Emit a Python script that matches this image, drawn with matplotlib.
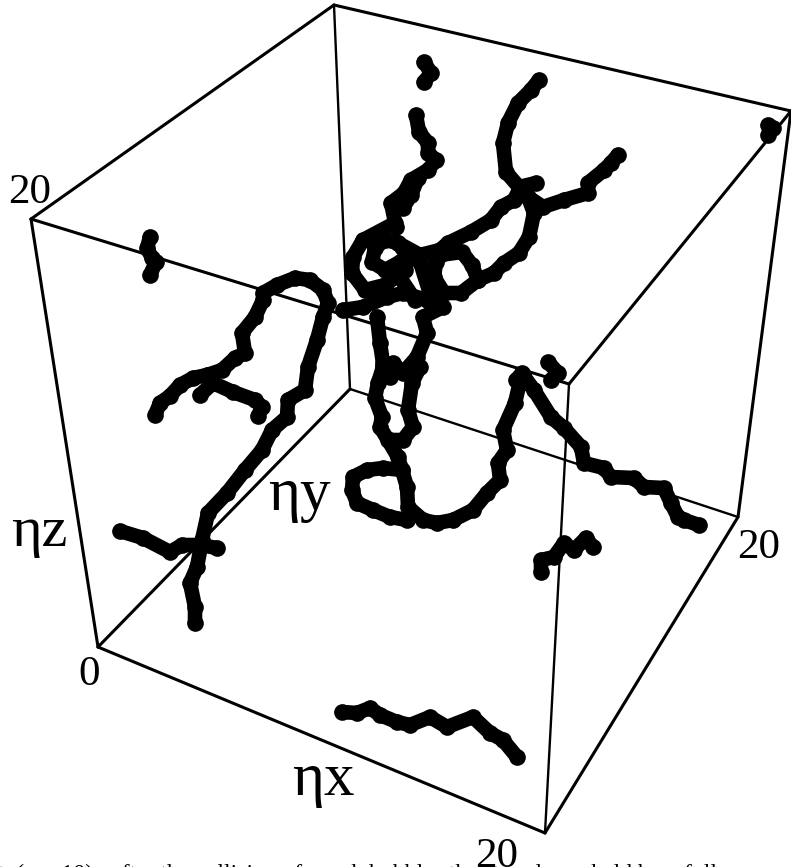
import matplotlib
matplotlib.use("Agg")
import matplotlib.pyplot as plt

plt.rcParams['font.family'] = ['Liberation Serif', 'DejaVu Serif']

# cube corners in pixels
origin = (98, 647)
left_top = (31, 219)
back_top = (334, 5)
right_top = (791, 111)
near_top = (569, 384)
back_bottom = (350, 389)
right_bottom = (738, 517)
near_bottom = (545, 833)

outer_edges = [(left_top, back_top), (back_top, right_top), (left_top, near_top),
               (right_top, near_top), (left_top, origin), (right_top, right_bottom),
               (origin, near_bottom), (near_bottom, right_bottom), (origin, back_bottom)]
inner_edges = [(back_top, back_bottom), (near_top, near_bottom), (back_bottom, right_bottom)]

# strings, (x, y) in picture pixels
strings = [
    [(150, 237), (147, 248), (152, 258), (156, 262), (150, 275)],
    [(155, 415), (160, 403), (170, 396), (180, 385), (193, 378), (207, 375), (222, 370),
     (235, 358), (245, 353), (242, 333), (255, 317), (263, 300), (263, 293), (277, 285),
     (295, 278), (310, 280), (323, 290), (328, 303), (323, 317), (317, 340), (308, 367),
     (305, 390), (288, 400), (287, 417), (272, 430), (262, 450), (245, 470), (227, 493),
     (208, 513), (202, 540), (197, 567), (190, 583), (195, 607), (195, 623)],
    [(120, 531), (143, 538), (170, 552), (182, 545), (200, 545), (217, 548)],
    [(200, 395), (213, 383), (233, 392), (255, 400), (262, 407), (258, 416)],
    [(424, 62), (431, 73), (424, 82)],
    [(768, 125), (773, 128), (768, 135)],
    [(416, 115), (419, 132), (428, 143), (428, 153), (436, 160), (428, 170), (411, 180),
     (404, 193), (391, 203), (396, 227), (395, 223), (363, 240), (353, 257),
     (352, 273), (365, 290), (385, 285), (405, 270), (408, 257), (398, 243), (385, 240),
     (375, 248), (372, 262), (385, 270), (400, 262)],
    [(398, 243), (420, 255), (440, 250), (448, 243), (471, 232), (491, 220), (501, 207),
     (514, 200), (519, 190)],
    [(418, 178), (411, 195), (403, 208)],
    [(539, 80), (531, 90), (518, 103), (508, 123), (503, 143), (506, 172), (519, 187),
     (536, 183)],
    [(519, 190), (528, 197), (543, 207), (564, 200), (588, 193), (588, 183), (604, 170),
     (611, 163), (618, 155)],
    [(528, 197), (534, 213), (529, 237), (519, 253), (504, 263), (494, 273), (478, 280),
     (461, 293), (444, 293), (434, 277), (436, 262), (440, 255), (462, 252), (472, 265),
     (478, 280)],
    [(343, 310), (363, 307), (387, 297), (403, 293), (427, 300), (443, 307), (423, 317),
     (427, 333), (417, 357), (403, 373), (393, 363), (383, 367)],
    [(395, 270), (415, 300)],
    [(420, 262), (432, 300)],
    [(377, 317), (380, 343), (383, 363), (390, 377)],
    [(383, 367), (378, 383), (375, 398), (382, 417), (380, 427), (388, 440), (398, 457),
     (402, 470), (407, 487), (408, 507), (423, 520), (437, 523), (453, 520), (473, 510),
     (487, 493), (500, 480), (498, 463), (507, 450), (503, 430), (515, 403), (522, 373),
     (516, 380), (523, 375), (534, 390), (551, 417), (564, 428), (581, 447), (584, 463),
     (604, 468), (611, 477), (634, 478), (644, 487), (664, 488), (671, 503), (678, 517),
     (684, 520), (699, 525)],
    [(420, 367), (412, 383), (408, 410), (413, 427), (403, 440), (390, 440)],
    [(402, 470), (383, 468), (367, 470), (353, 477), (352, 490), (357, 503), (373, 510),
     (390, 517), (407, 520)],
    [(548, 362), (558, 373), (551, 380)],
    [(541, 572), (541, 560), (554, 557), (564, 543), (574, 550), (586, 538), (593, 547)],
    [(342, 712), (357, 713), (370, 708), (380, 715), (397, 722), (410, 725), (430, 717),
     (447, 727), (473, 717), (490, 733), (503, 740), (517, 757)],
]

labels = [("20", 8, 203, 31), ("20", 737, 558, 31), ("20", 475, 867, 31), ("0", 78, 685, 31),
          ("ηz", 11, 546, 42), ("ηy", 268, 510, 44), ("ηx", 292, 795, 44)]
caption = "t  (η = 10):  after the collision of rough bubbles the strands are held by a fully"

fig = plt.figure(figsize=(7.91, 8.67), dpi=100)
ax = fig.add_axes([0, 0, 1, 1])
ax.set_xlim(0, 791)
ax.set_ylim(867, 0)
ax.axis("off")

for a, b in outer_edges:
    ax.plot([a[0], b[0]], [a[1], b[1]], color="black", lw=2.2, solid_capstyle="round")
for a, b in inner_edges:
    ax.plot([a[0], b[0]], [a[1], b[1]], color="black", lw=1.7, solid_capstyle="round")

for s in strings:
    xs = [p[0] for p in s]
    ys = [p[1] for p in s]
    ax.plot(xs, ys, color="black", lw=10.5, marker="o", ms=12, mew=0,
            solid_capstyle="round", solid_joinstyle="round")

for txt, x, y, size in labels:
    ax.text(x, y, txt, fontsize=size, color="black", ha="left", va="baseline")

ax.text(-2, 880, caption, fontsize=17, color="black", ha="left", va="baseline", clip_on=False)

fig.savefig("out.png", dpi=100)
